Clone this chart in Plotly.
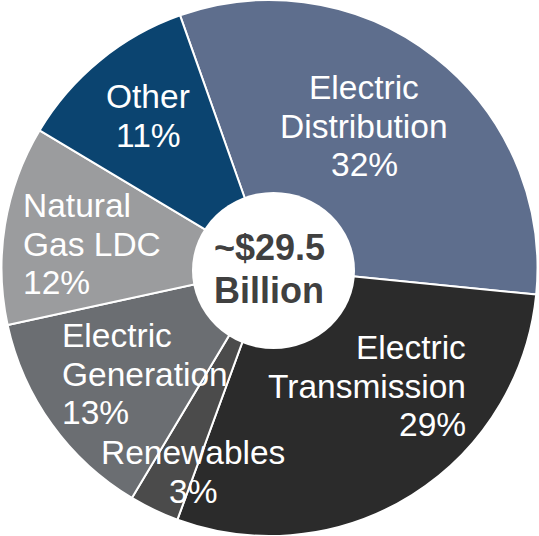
import plotly.graph_objects as go

# ---- data ----
categories = ["Electric Distribution", "Electric Transmission", "Renewables",
              "Electric Generation", "Natural Gas LDC", "Other"]
shares = [32, 29, 3, 13, 12, 11]
label_lines = [["Electric", "Distribution"], ["Electric", "Transmission"], ["Renewables"],
               ["Electric", "Generation"], ["Natural", "Gas LDC"], ["Other"]]
center_text = ["~$29.5", "Billion"]

# ---- styling ----
colors = ["#5e6e8d", "#2b2b2b", "#4b4b4b", "#6b6e72", "#9b9c9e", "#0b4470"]
W, H = 539, 536
FONT = "Liberation Sans, Arial, sans-serif"
LBL_SIZE = 33.5
LINE_GAP = 38.5
# (anchor x px, first baseline px, xanchor) per slice label
label_pos = [(364, 100, "center"), (467, 360, "right"), (193, 465, "center"),
             (61, 348, "left"), (22, 218, "left"), (148, 109, "center")]

fig = go.Figure(go.Pie(
    labels=categories, values=shares, sort=False, direction="clockwise",
    rotation=-19.5, textinfo="none", textposition="none", hoverinfo="label+percent",
    marker=dict(colors=colors, line=dict(color="white", width=2)),
    domain=dict(x=[0, 1], y=[0, 1]), showlegend=False, automargin=False,
))

def px2paper(x, y):
    return x / W, 1 - y / H

annotations = []
for lines, v, (ax, ay, anch) in zip(label_lines, shares, label_pos):
    for i, t in enumerate(lines + [f"{v}%"]):
        bx = ay + i * LINE_GAP
        xp, yp = px2paper(ax, bx - 0.36 * LBL_SIZE)
        annotations.append(dict(text=t, x=xp, y=yp, xref="paper", yref="paper",
                                xanchor=anch, yanchor="middle", showarrow=False,
                                borderpad=0,
                                font=dict(family=FONT, size=LBL_SIZE, color="white")))

for i, t in enumerate(center_text):
    xp, yp = px2paper(269, 260 + i * 43 - 0.36 * 36)
    annotations.append(dict(text=f"<b>{t}</b>", x=xp, y=yp, xref="paper", yref="paper",
                            xanchor="center", yanchor="middle", showarrow=False,
                            borderpad=0,
                            font=dict(family=FONT, size=36, color="#404040")))

x0, y0 = px2paper(192, 192)
x1, y1 = px2paper(355, 349)
fig.update_layout(
    width=W, height=H, margin=dict(l=0, r=0, t=0, b=0),
    paper_bgcolor="white", plot_bgcolor="white",
    annotations=annotations,
    shapes=[dict(type="circle", xref="paper", yref="paper", x0=x0, y0=y1, x1=x1, y1=y0,
                 fillcolor="white", line=dict(width=0), layer="above")],
)
fig.write_html("out.html", config={"displayModeBar": False},
               post_script="document.body.style.margin='0';document.body.style.overflow='hidden';")
